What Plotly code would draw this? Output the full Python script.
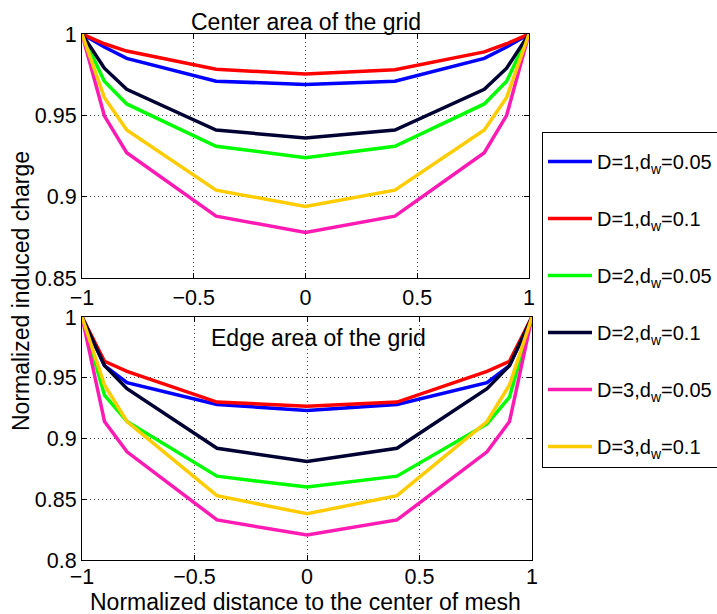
import plotly.graph_objects as go

W, H = 717, 614

x_pos = [-1, -0.9, -0.8, -0.4, 0, 0.4, 0.8, 0.9, 1]

names = ["D=1,d<sub>w</sub>=0.05", "D=1,d<sub>w</sub>=0.1", "D=2,d<sub>w</sub>=0.05",
         "D=2,d<sub>w</sub>=0.1", "D=3,d<sub>w</sub>=0.05", "D=3,d<sub>w</sub>=0.1"]
colors = ["#0000ff", "#ff0000", "#00ff00", "#000033", "#ff1ab4", "#ffcc00"]

# Center area of the grid
center_d1_005 = [1.0, 0.992, 0.985, 0.971, 0.969, 0.971, 0.985, 0.992, 1.0]
center_d1_01 = [1.0, 0.994, 0.9895, 0.9783, 0.9754, 0.978, 0.989, 0.994, 1.0]
center_d2_005 = [1.0, 0.971, 0.957, 0.931, 0.924, 0.931, 0.957, 0.971, 1.0]
center_d2_01 = [1.0, 0.979, 0.966, 0.941, 0.936, 0.941, 0.966, 0.979, 1.0]
center_d3_005 = [1.0, 0.9497, 0.927, 0.888, 0.878, 0.888, 0.927, 0.950, 1.0]
center_d3_01 = [1.0, 0.961, 0.941, 0.904, 0.894, 0.904, 0.941, 0.961, 1.0]

# Edge area of the grid
edge_d1_005 = [1.0, 0.960, 0.946, 0.928, 0.923, 0.928, 0.946, 0.960, 1.0]
edge_d1_01 = [1.0, 0.9636, 0.9553, 0.930, 0.9266, 0.930, 0.9553, 0.9636, 1.0]
edge_d2_005 = [1.0, 0.9356, 0.914, 0.869, 0.860, 0.869, 0.912, 0.934, 1.0]
edge_d2_01 = [1.0, 0.960, 0.941, 0.892, 0.881, 0.892, 0.941, 0.960, 1.0]
edge_d3_005 = [1.0, 0.914, 0.889, 0.833, 0.8205, 0.833, 0.889, 0.914, 1.0]
edge_d3_01 = [1.0, 0.944, 0.914, 0.853, 0.838, 0.853, 0.914, 0.944, 1.0]

center_series = [center_d1_005, center_d1_01, center_d2_005, center_d2_01, center_d3_005, center_d3_01]
edge_series = [edge_d1_005, edge_d1_01, edge_d2_005, edge_d2_01, edge_d3_005, edge_d3_01]

x_ticks = [-1, -0.5, 0, 0.5, 1]
x_tick_labels = ["\u22121", "\u22120.5", "0", "0.5", "1"]
y_ticks_top = [0.85, 0.9, 0.95, 1]
y_tick_labels_top = ["0.85", "0.9", "0.95", "1"]
y_ticks_bot = [0.8, 0.85, 0.9, 0.95, 1]
y_tick_labels_bot = ["0.8", "0.85", "0.9", "0.95", "1"]

FONT = "Liberation Sans, Arial, Helvetica, sans-serif"

fig = go.Figure()
for i in range(6):
    fig.add_trace(go.Scatter(x=x_pos, y=center_series[i], mode="lines", name=names[i],
                             line=dict(color=colors[i], width=3.5), xaxis="x", yaxis="y",
                             legendgroup=f"g{i}", showlegend=True))
for i in range(6):
    fig.add_trace(go.Scatter(x=x_pos, y=edge_series[i], mode="lines", name=names[i],
                             line=dict(color=colors[i], width=3.5), xaxis="x2", yaxis="y2",
                             legendgroup=f"g{i}", showlegend=False))

def px_x(p):
    return p / W

def px_y(p):
    return 1 - p / H

axis_common = dict(showline=True, linecolor="black", linewidth=1, mirror="ticks",
                   ticks="inside", ticklen=5, tickcolor="black",
                   showgrid=True, gridcolor="#444444", griddash="1px,3px", gridwidth=1,
                   zeroline=False, tickfont=dict(family=FONT, size=21.5, color="black"))

fig.update_layout(
    width=W, height=H,
    margin=dict(l=0, r=0, t=0, b=0, autoexpand=False),
    paper_bgcolor="white", plot_bgcolor="white",
    font=dict(family=FONT, color="black"),
    xaxis=dict(domain=[px_x(82), px_x(529)], range=[-1, 1], anchor="y",
               tickvals=x_ticks, ticktext=x_tick_labels, **axis_common),
    yaxis=dict(domain=[px_y(278), px_y(34)], range=[0.85, 1], anchor="x",
               tickvals=y_ticks_top, ticktext=y_tick_labels_top, **axis_common),
    xaxis2=dict(domain=[px_x(82), px_x(532)], range=[-1, 1], anchor="y2",
                tickvals=x_ticks, ticktext=x_tick_labels, ticklabelstandoff=-3, **axis_common),
    yaxis2=dict(domain=[px_y(560), px_y(317)], range=[0.8, 1], anchor="x2",
                tickvals=y_ticks_bot, ticktext=y_tick_labels_bot, **axis_common),
    legend=dict(x=px_x(542), y=px_y(132), xanchor="left", yanchor="top",
                bordercolor="black", borderwidth=1, bgcolor="white",
                font=dict(family=FONT, size=20, color="black"),
                title=dict(text=" ", font=dict(size=7)),
                itemwidth=44,
                traceorder="grouped", tracegroupgap=28),
    showlegend=True,
    annotations=[
        dict(text="Center area of the grid", x=px_x(305.5), y=px_y(22), xref="paper", yref="paper",
             xanchor="center", yanchor="middle", showarrow=False,
             font=dict(family=FONT, size=23, color="black")),
        dict(text="Edge area of the grid", x=px_x(318), y=px_y(338), xref="paper", yref="paper",
             xanchor="center", yanchor="middle", showarrow=False,
             font=dict(family=FONT, size=23, color="black")),
        dict(text="Normalized distance to the center of mesh", x=px_x(305.5), y=px_y(601.5),
             xref="paper", yref="paper", xanchor="center", yanchor="middle", showarrow=False,
             font=dict(family=FONT, size=23, color="black")),
        dict(text="Normalized induced charge", x=px_x(21), y=px_y(291), xref="paper", yref="paper",
             xanchor="center", yanchor="middle", showarrow=False, textangle=-90,
             font=dict(family=FONT, size=23, color="black")),
    ],
)

fig.write_html("out.html")
